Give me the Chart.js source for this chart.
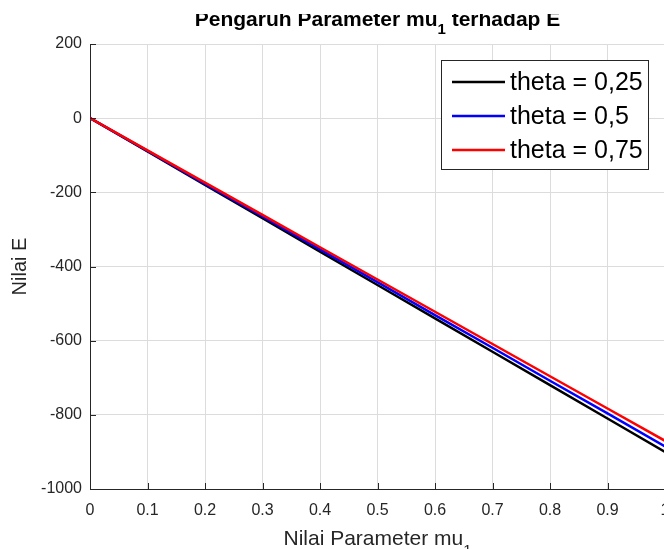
<!DOCTYPE html>
<html>
<head>
<meta charset="utf-8">
<script src="https://cdn.jsdelivr.net/npm/chart.js@4.4.1/dist/chart.umd.min.js"></script>
<style>
  html, body { margin: 0; padding: 0; background: #fff; overflow: hidden; }
  #wrap { position: relative; width: 700px; height: 549px; }
</style>
</head>
<body>
<div id="wrap"><canvas id="myChart" width="700" height="549"></canvas></div>
<script>
// x values (mu_1) and E for each theta
var muValues = [0, 0.1, 0.2, 0.3, 0.4, 0.5, 0.6, 0.7, 0.8, 0.9, 1.0];
var eTheta025 = [0, -90, -180, -270, -360, -450, -540, -630, -720, -810, -900];
var eTheta05  = [0, -88, -177, -265, -354, -442, -531, -619, -708, -796, -885];
var eTheta075 = [0, -87, -174, -261, -348, -435, -522, -609, -696, -783, -870];
var seriesNames = ["theta = 0,25", "theta = 0,5", "theta = 0,75"];
var seriesColors = ["#000000", "#0000ff", "#ff0000"];
var xTicks = [0, 0.1, 0.2, 0.3, 0.4, 0.5, 0.6, 0.7, 0.8, 0.9, 1];
var yTicks = [-1000, -800, -600, -400, -200, 0, 200];

function toPoints(ys) {
    return muValues.map(function (x, i) { return {x: x, y: ys[i]}; });
}

var txtColor = "#262626";
var fontName = "'Liberation Sans', Arial, sans-serif";

// title, axis titles, legend and inward ticks drawn like MATLAB
var matlabDecor = {
    id: 'matlabDecor',
    afterDraw: function (chart) {
        var c = chart.ctx, a = chart.chartArea;
        var xs = chart.scales.x, ys = chart.scales.y;
        c.save();

        // inward ticks
        c.strokeStyle = txtColor;
        c.lineWidth = 1;
        xTicks.forEach(function (v) {
            var px = Math.round(xs.getPixelForValue(v)) + 0.5;
            c.beginPath(); c.moveTo(px, a.bottom); c.lineTo(px, a.bottom - 6); c.stroke();
        });
        yTicks.forEach(function (v) {
            var py = Math.round(ys.getPixelForValue(v)) + 0.5;
            c.beginPath(); c.moveTo(a.left, py); c.lineTo(a.left + 6, py); c.stroke();
        });

        // title with subscript
        c.fillStyle = "#000";
        c.textBaseline = "alphabetic";
        var t1 = "Pengaruh Parameter mu", t2 = " terhadap E";
        c.font = "bold 21px " + fontName;
        var w1 = c.measureText(t1).width, w2 = c.measureText(t2).width;
        c.font = "bold 15px " + fontName;
        var ws = c.measureText("1").width;
        var total = w1 + ws + w2;
        var cx = (a.left + a.right) / 2;
        var x0 = cx - total / 2;
        c.textAlign = "left";
        c.font = "bold 21px " + fontName;
        c.fillText(t1, x0, 26);
        c.font = "bold 15px " + fontName;
        c.fillText("1", x0 + w1, 34);
        c.font = "bold 21px " + fontName;
        c.fillText(t2, x0 + w1 + ws, 26);
        c.fillStyle = "#fff";
        c.fillRect(0, 0, chart.width, 14);

        // x axis title
        c.fillStyle = txtColor;
        c.font = "21px " + fontName;
        var xt = "Nilai Parameter mu";
        var wx = c.measureText(xt).width;
        c.font = "15px " + fontName;
        var wsx = c.measureText("1").width;
        var xx0 = cx - (wx + wsx) / 2;
        c.font = "21px " + fontName;
        c.fillText(xt, xx0, 545);
        c.font = "15px " + fontName;
        c.fillText("1", xx0 + wx, 555);

        // y axis title
        c.font = "20px " + fontName;
        c.translate(26, (a.top + a.bottom) / 2);
        c.rotate(-Math.PI / 2);
        c.textAlign = "center";
        c.fillText("Nilai E", 0, 0);
        c.setTransform(1, 0, 0, 1, 0, 0);

        // legend
        var lx = 441.5, ly = 60.5, lw = 207, lh = 109;
        c.fillStyle = "#fff";
        c.fillRect(lx, ly, lw, lh);
        c.strokeStyle = "#262626";
        c.lineWidth = 1;
        c.strokeRect(lx, ly, lw, lh);
        c.font = "25px " + fontName;
        c.textAlign = "left";
        c.textBaseline = "middle";
        var rows = [82, 116, 150];
        seriesNames.forEach(function (name, i) {
            c.strokeStyle = seriesColors[i];
            c.lineWidth = 2.5;
            c.beginPath(); c.moveTo(452, rows[i]); c.lineTo(505, rows[i]); c.stroke();
            c.fillStyle = "#000";
            c.fillText(name, 510, rows[i] + 1);
        });
        c.restore();
    }
};

var ctx = document.getElementById("myChart");
var allSeries = [eTheta025, eTheta05, eTheta075];
var myChart = new Chart(ctx, {
    type: 'line',
    data: {
        datasets: [0, 1, 2].map(function (i) {
            return {
                label: seriesNames[i],
                data: toPoints(allSeries[i]),
                borderColor: seriesColors[i],
                backgroundColor: seriesColors[i],
                borderWidth: 2.5,
                pointRadius: 0,
                tension: 0,
                order: 2 - i
            };
        })
    },
    options: {
        responsive: false,
        animation: false,
        layout: {padding: {top: 44, right: 35, left: 0, bottom: 0}},
        plugins: {legend: {display: false}, title: {display: false}, tooltip: {enabled: false}},
        scales: {
            x: {
                type: 'linear',
                min: 0, max: 1,
                afterBuildTicks: function (s) { s.ticks = xTicks.map(function (v) { return {value: v}; }); },
                afterFit: function (s) { s.height = 60; },
                ticks: {
                    color: txtColor, padding: 12,
                    font: {family: fontName, size: 16},
                    maxRotation: 0,
                    callback: function (v) { return String(v); }
                },
                grid: {color: "#dcdcdc", drawTicks: false},
                border: {color: txtColor, width: 1}
            },
            y: {
                min: -1000, max: 200,
                afterBuildTicks: function (s) { s.ticks = yTicks.map(function (v) { return {value: v}; }); },
                afterFit: function (s) { s.width = 90; },
                ticks: {
                    color: txtColor, padding: 8,
                    font: {family: fontName, size: 16},
                    callback: function (v) { return String(v); }
                },
                grid: {color: "#dcdcdc", drawTicks: false},
                border: {color: txtColor, width: 1}
            }
        }
    },
    plugins: [matlabDecor]
});
</script>
</body>
</html>
